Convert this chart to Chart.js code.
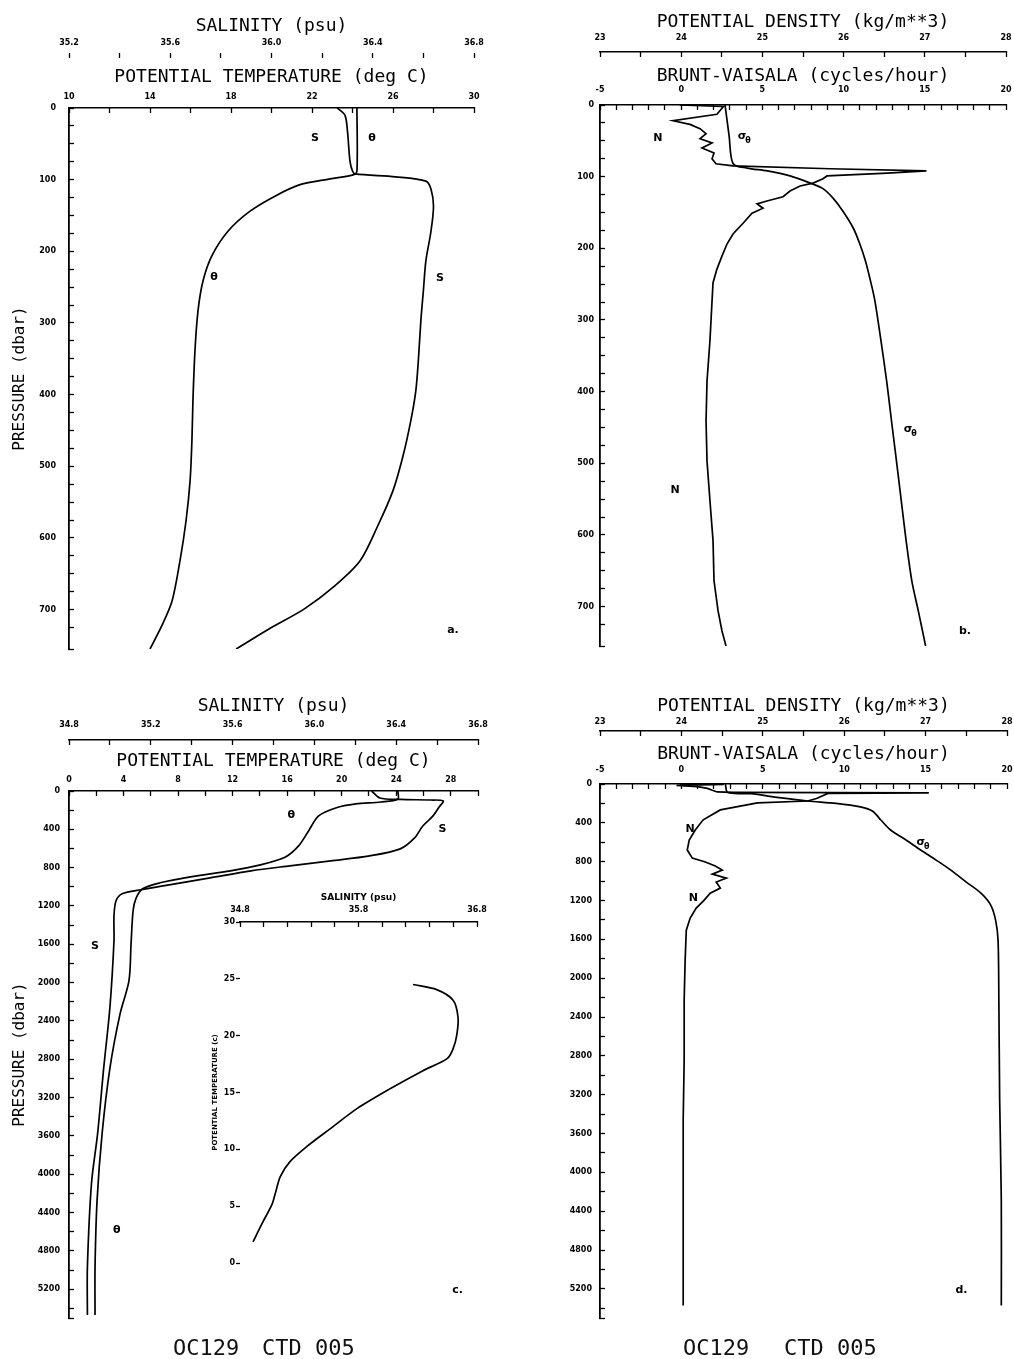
<!DOCTYPE html>
<html>
<head>
<meta charset="utf-8">
<title>OC129 CTD 005</title>
<script src="https://cdn.jsdelivr.net/npm/chart.js@4.4.1/dist/chart.umd.min.js"></script>
<style>
  html, body { margin: 0; padding: 0; background: #fff; }
  body { position: relative; width: 1014px; height: 1359px; overflow: hidden; }
  canvas { position: absolute; }
  .foot { position: absolute; font-family: "DejaVu Sans Mono", monospace; font-size: 22px; line-height: 22px; color: #111; white-space: pre; }
</style>
</head>
<body>
<canvas id="pa" width="500" height="665" style="left:0px;top:0px"></canvas>
<canvas id="pb" width="484" height="665" style="left:530px;top:0px"></canvas>
<canvas id="pc" width="500" height="679" style="left:0px;top:680px"></canvas>
<canvas id="pd" width="484" height="679" style="left:530px;top:680px"></canvas>
<canvas id="pi" width="320" height="400" style="left:180px;top:880px"></canvas>
<div class="foot" style="left:173px;top:1337px">OC129</div>
<div class="foot" style="left:262px;top:1337px">CTD 005</div>
<div class="foot" style="left:683px;top:1337px">OC129</div>
<div class="foot" style="left:784px;top:1337px">CTD 005</div>
<script>
// ---- a. upper 750 dbar: potential temperature and salinity
const aThetaP = [0, 88, 93, 99, 107, 123, 144, 172, 206, 241, 283, 339, 409, 464, 520, 576, 632, 688, 722, 755];
const aTheta  = [24.22, 24.22, 24.07, 22.89, 21.41, 20.17, 18.94, 17.85, 17.06, 16.62, 16.37, 16.22, 16.12, 16.07, 15.98, 15.78, 15.48, 15.09, 14.59, 14.0];
const aSalP = [0, 10, 32, 74, 88, 92, 96, 102, 113, 137, 172, 213, 255, 297, 353, 395, 437, 485, 534, 583, 632, 667, 699, 727, 755];
const aSal  = [36.26, 36.29, 36.30, 36.31, 36.32, 36.33, 36.49, 36.61, 36.63, 36.64, 36.63, 36.61, 36.60, 36.59, 36.58, 36.57, 36.55, 36.52, 36.48, 36.42, 36.35, 36.25, 36.13, 35.99, 35.86];

// ---- b. upper 750 dbar: sigma-theta and Brunt-Vaisala frequency
const bSigP = [0, 43, 82, 88, 92, 99, 109, 117, 130, 148, 172, 194, 218, 245, 273, 329, 385, 441, 496, 552, 608, 664, 706, 755];
const bSig  = [24.54, 24.59, 24.64, 24.81, 25.06, 25.34, 25.59, 25.75, 25.87, 25.99, 26.12, 26.20, 26.27, 26.33, 26.385, 26.46, 26.53, 26.59, 26.65, 26.71, 26.77, 26.84, 26.92, 27.01];
const bNP = [0, 2, 13, 22, 27, 33, 40, 47, 53, 60, 67, 75, 82, 85, 89, 92, 95, 99, 103, 109, 113, 120, 128, 134, 138, 144, 151, 165, 180, 194, 211, 229, 248, 273, 329, 385, 441, 497, 552, 608, 664, 706, 734, 755];
const bN  = [-0.1, 2.6, 2.2, -0.5, 0.54, 1.16, 1.53, 1.16, 1.90, 1.28, 2.02, 1.90, 2.14, 3.19, 9.16, 15.1, 12.7, 8.98, 8.73, 8.12, 7.32, 6.70, 6.27, 5.28, 4.67, 5.04, 4.36, 3.81, 3.19, 2.82, 2.51, 2.20, 1.96, 1.90, 1.77, 1.59, 1.53, 1.59, 1.77, 1.96, 2.02, 2.27, 2.51, 2.76];

// ---- c. full depth: potential temperature and salinity
const cThetaP = [0, 83, 115, 135, 177, 260, 417, 573, 688, 771, 833, 896, 958, 1021, 1125, 1250, 1600, 1979, 2323, 2885, 3573, 4271, 4969, 5469];
const cTheta  = [24.12, 24.12, 22.87, 21.03, 19.56, 18.31, 17.57, 16.84, 15.88, 14.04, 11.84, 8.90, 6.69, 5.40, 4.90, 4.70, 4.55, 4.40, 3.75, 3.01, 2.43, 2.06, 1.91, 1.91];
const cSalP = [0, 73, 88, 94, 104, 167, 260, 365, 490, 604, 677, 729, 781, 833, 906, 979, 1031, 1073, 1146, 1302, 1563, 2260, 2885, 3573, 4094, 4969, 5469];
const cSal  = [36.28, 36.32, 36.42, 36.57, 36.63, 36.61, 36.58, 36.53, 36.49, 36.42, 36.27, 36.08, 35.88, 35.69, 35.49, 35.29, 35.15, 35.06, 35.03, 35.02, 35.02, 35.00, 34.97, 34.94, 34.91, 34.89, 34.89];

// ---- c inset: theta-S diagram
const insetSal   = [36.26, 36.46, 36.60, 36.64, 36.63, 36.60, 36.55, 36.34, 36.07, 35.79, 35.56, 35.37, 35.22, 35.14, 35.10, 35.07, 34.99, 34.91];
const insetTheta = [24.5, 24.05, 23.1, 21.6, 20.1, 18.9, 18.0, 16.9, 15.35, 13.6, 11.8, 10.3, 8.9, 7.6, 6.2, 5.15, 3.55, 1.86];

// ---- d. full depth: sigma-theta and Brunt-Vaisala frequency
const dNP = [0, 3, 15, 28, 45, 65, 82, 86, 92, 97, 150, 175, 195, 267, 369, 474, 577, 680, 763, 804, 845, 887, 928, 969, 1010, 1072, 1124, 1196, 1278, 1381, 1505, 1814, 2227, 2845, 3464, 4082, 4701, 5371];
const dN  = [-0.1, 2.6, -0.3, 1.0, 1.6, 1.9, 2.2, 3.2, 15.2, 9.0, 8.3, 7.75, 4.67, 2.39, 1.34, 0.85, 0.48, 0.36, 0.67, 1.47, 2.08, 2.51, 1.90, 2.76, 2.14, 2.39, 1.77, 1.40, 0.91, 0.54, 0.30, 0.23, 0.17, 0.17, 0.11, 0.11, 0.11, 0.11];
const dSigP = [0, 88, 100, 140, 175, 200, 236, 280, 371, 474, 577, 680, 784, 887, 1010, 1124, 1247, 1402, 1608, 2227, 3258, 4289, 5371];
const dSig  = [24.54, 24.57, 24.85, 25.20, 25.55, 25.90, 26.20, 26.35, 26.45, 26.57, 26.76, 26.94, 27.13, 27.31, 27.50, 27.68, 27.80, 27.86, 27.89, 27.90, 27.91, 27.93, 27.93];

// curve labels, placed in the units of each panel's first x axis and pressure
const aMarks = [
  { text: 'S', x: 22.15, y: 42 }, { text: 'θ', x: 24.96, y: 42 },
  { text: 'θ', x: 17.16, y: 236 }, { text: 'S', x: 28.32, y: 238 },
  { text: 'a.', x: 28.96, y: 729 }
];
const bMarks = [
  { text: 'N', x: -1.43, y: 46 }, { text: 'σ', sub: 'θ', x: 3.74, y: 43 },
  { text: 'σ', sub: 'θ', x: 13.97, y: 452 }, { text: 'N', x: -0.38, y: 538 },
  { text: 'b.', x: 17.47, y: 734 }
];
const cMarks = [
  { text: 'θ', x: 16.3, y: 250 }, { text: 'S', x: 27.4, y: 397 },
  { text: 'S', x: 1.9, y: 1618 }, { text: 'θ', x: 3.5, y: 4582 },
  { text: 'c.', x: 28.5, y: 5209 }
];
const dMarks = [
  { text: 'N', x: 0.54, y: 464 }, { text: 'N', x: 0.73, y: 1175 },
  { text: 'σ', sub: 'θ', x: 14.7, y: 598 }, { text: 'd.', x: 17.2, y: 5216 }
];

const TICK_FONT = { family: 'DejaVu Sans', size: 8, weight: 'bold' };
const TITLE_FONT = { family: 'DejaVu Sans Mono', size: 18 };
const YTITLE_FONT = { family: 'DejaVu Sans Mono', size: 16 };

// force each axis box to a fixed size so the plot areas land where the original has them
function fixSize(size) {
  return function (s) {
    if (s.isHorizontal()) s.height = size; else s.width = size;
    s.paddingTop = 0; s.paddingBottom = 0; s.paddingLeft = 0; s.paddingRight = 0;
  };
}

function topAxis(c) {
  return {
    type: 'linear', position: 'top', min: c.min, max: c.max, weight: c.weight,
    afterFit: fixSize(c.h),
    border: { display: c.line !== false, color: '#000', width: 1.6, dash: c.dash || [] },
    grid: { drawOnChartArea: false, tickLength: -5, color: '#000', tickWidth: 1.3 },
    ticks: { stepSize: c.step, autoSkip: false, maxRotation: 0, padding: c.lp, font: TICK_FONT, color: '#000', callback: c.fmt },
    title: { display: true, text: c.title, font: c.tfont || TITLE_FONT, color: '#000', padding: { top: c.tp, bottom: 0 } }
  };
}

function leftAxis(c) {
  return {
    type: 'linear', position: 'left', reverse: c.reverse !== false, min: c.min || 0, max: c.max,
    afterFit: fixSize(c.w),
    border: { display: c.line !== false, color: '#000', width: 1.8 },
    grid: { drawOnChartArea: false, tickLength: c.tl || -5, color: '#000', tickWidth: 1.3 },
    ticks: { stepSize: c.step, autoSkip: false, padding: c.lp, font: TICK_FONT, color: '#000', callback: c.fmt },
    title: { display: !!c.title, text: c.title || '', font: c.tfont || YTITLE_FONT, color: '#000', padding: { top: c.tp || 0, bottom: 0 } }
  };
}

const every = n => v => (Math.abs(v / n - Math.round(v / n)) < 1e-6 ? String(v) : '');
const salEvery = (base, n) => v => ((Math.round(v * 10) - base) % n === 0 ? v.toFixed(1) : '');

const textMarks = {
  id: 'textMarks',
  afterDatasetsDraw(chart, args, opts) {
    const ctx = chart.ctx;
    const xs = chart.scales[opts.xAxis], ys = chart.scales.y;
    ctx.save();
    ctx.fillStyle = '#000';
    ctx.textAlign = 'center';
    ctx.textBaseline = 'middle';
    opts.marks.forEach(m => {
      const px = xs.getPixelForValue(m.x), py = ys.getPixelForValue(m.y);
      ctx.font = 'bold 11px "DejaVu Sans"';
      ctx.fillText(m.text, px, py);
      if (m.sub) { ctx.font = 'bold 8px "DejaVu Sans"'; ctx.fillText(m.sub, px + 6, py + 5); }
    });
    ctx.restore();
  }
};

function profile(xs, ps, axis, tension) {
  return {
    data: xs.map((v, i) => ({ x: v, y: ps[i] })), xAxisID: axis, yAxisID: 'y',
    borderColor: '#000', borderWidth: 1.7, pointRadius: 0, tension: tension, fill: false
  };
}

function makeChart(id, datasets, scales, pad, marks) {
  return new Chart(document.getElementById(id), {
    type: 'line',
    data: { datasets: datasets },
    options: {
      responsive: false, animation: false, devicePixelRatio: 1, indexAxis: 'y',
      layout: { padding: { left: 0, top: 0, right: pad.r, bottom: pad.b } },
      scales: scales,
      plugins: { legend: { display: false }, tooltip: { enabled: false }, textMarks: marks || { xAxis: 'none', marks: [] } }
    },
    plugins: marks ? [textMarks] : []
  });
}

// a.
makeChart('pa',
  [profile(aTheta, aThetaP, 'xT', 0.3), profile(aSal, aSalP, 'xS', 0.3)],
  {
    y: leftAxis({ max: 755, step: 25, w: 69, lp: 18, tp: 10, title: 'PRESSURE (dbar)', fmt: every(100) }),
    xT: topAxis({ min: 10, max: 30, step: 2, weight: 0, h: 55, lp: 11, tp: 14, dash: [12, 5],
      title: 'POTENTIAL TEMPERATURE (deg C)', fmt: v => ((v - 10) % 4 === 0 ? String(v) : '') }),
    xS: topAxis({ min: 35.2, max: 36.8, step: 0.2, weight: 1, h: 53, lp: 10, tp: 16, line: false,
      title: 'SALINITY (psu)', fmt: salEvery(352, 4) })
  },
  { r: 26, b: 16 }, { xAxis: 'xT', marks: aMarks });

// b.
makeChart('pb',
  [profile(bSig, bSigP, 'xD', 0.3), profile(bN, bNP, 'xN', 0)],
  {
    y: leftAxis({ max: 755, step: 25, w: 70, lp: 11, fmt: every(100) }),
    xN: topAxis({ min: -5, max: 20, step: 1, weight: 0, h: 53, lp: 15, tp: 14, dash: [14, 4],
      title: 'BRUNT-VAISALA (cycles/hour)', fmt: every(5) }),
    xD: topAxis({ min: 23, max: 28, step: 0.5, weight: 1, h: 52, lp: 14, tp: 12, dash: [12, 5],
      title: 'POTENTIAL DENSITY (kg/m**3)', fmt: every(1) })
  },
  { r: 8, b: 19 }, { xAxis: 'xN', marks: bMarks });

// c.
makeChart('pc',
  [profile(cTheta, cThetaP, 'xT', 0.3), profile(cSal, cSalP, 'xS', 0.3)],
  {
    y: leftAxis({ max: 5500, step: 200, w: 69, lp: 14, tp: 10, title: 'PRESSURE (dbar)', fmt: every(400) }),
    xT: topAxis({ min: 0, max: 30, step: 2, weight: 0, h: 51, lp: 11, tp: 11,
      title: 'POTENTIAL TEMPERATURE (deg C)', fmt: every(4) }),
    xS: topAxis({ min: 34.8, max: 36.8, step: 0.2, weight: 1, h: 60, lp: 15, tp: 16,
      title: 'SALINITY (psu)', fmt: salEvery(348, 4) })
  },
  { r: 22, b: 41 }, { xAxis: 'xT', marks: cMarks });

// d.
makeChart('pd',
  [profile(dSig, dSigP, 'xD', 0.3), profile(dN, dNP, 'xN', 0)],
  {
    y: leftAxis({ max: 5500, step: 200, w: 70, lp: 13, fmt: every(400) }),
    xN: topAxis({ min: -5, max: 20, step: 1, weight: 0, h: 53, lp: 14, tp: 13,
      title: 'BRUNT-VAISALA (cycles/hour)', fmt: every(5) }),
    xD: topAxis({ min: 23, max: 28, step: 0.5, weight: 1, h: 51, lp: 9, tp: 16,
      title: 'POTENTIAL DENSITY (kg/m**3)', fmt: every(1) })
  },
  { r: 7, b: 41 }, { xAxis: 'xN', marks: dMarks });

// inset theta-S
makeChart('pi',
  [profile(insetSal, insetTheta, 'xs', 0.3)],
  {
    y: leftAxis({ reverse: false, min: 0, max: 30, step: 5, w: 60, lp: 1, tl: 4, line: false, tp: 31,
      title: 'POTENTIAL TEMPERATURE (c)', tfont: { family: 'DejaVu Sans', size: 7, weight: 'bold' }, fmt: every(5) }),
    xs: topAxis({ min: 34.8, max: 36.8, step: 0.2, weight: 0, h: 42, lp: 12, tp: 12, dash: [8, 4],
      title: 'SALINITY (psu)', tfont: { family: 'DejaVu Sans', size: 9, weight: 'bold' }, fmt: salEvery(348, 10) })
  },
  { r: 23, b: 17 }, null);
</script>
</body>
</html>
